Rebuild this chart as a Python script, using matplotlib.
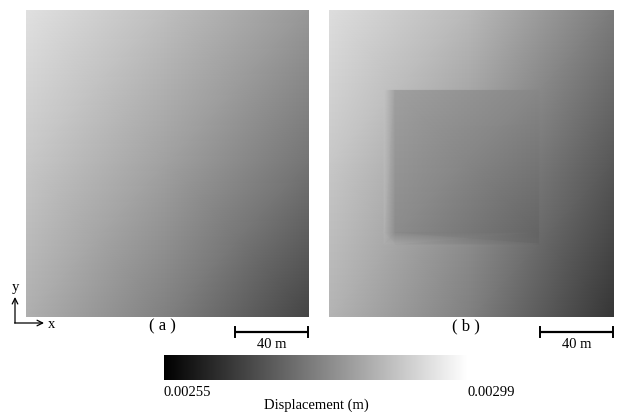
import numpy as np
import matplotlib
matplotlib.use("Agg")
import matplotlib.pyplot as plt

plt.rcParams['font.family'] = ['Liberation Serif', 'DejaVu Serif']

# ---- data (displacement in m) ----
vmin, vmax = 0.00255, 0.00299
domain_w, domain_h = 155, 168          # m
grid_x = [0, 77.5, 155]                # m, node positions
grid_y = [168, 84, 0]                  # m, rows top->bottom
# panel (a): node values, rows top->bottom, cols left->right
field_a = [[0.002938, 0.002878, 0.002812],
           [0.002895, 0.002826, 0.002750],
           [0.002852, 0.002770, 0.002668]]
# panel (b) background
field_b = [[0.002933, 0.002869, 0.002762],
           [0.002895, 0.002809, 0.002700],
           [0.002861, 0.002770, 0.002642]]
# panel (b) inclusion, with soft left/bottom fringe (outer nodes = surroundings)
inc_x = [30, 36, 114]                  # m
inc_y = [124, 46, 40]                  # m, top->bottom
field_inc = [[0.002890, 0.002826, 0.002783],
             [0.002855, 0.002792, 0.002723],
             [0.002850, 0.002835, 0.002725]]
scale_len = 40                         # m
panel_labels = ['( a )', '( b )']
cbar_ticks = ['0.00255', '0.00299']
cbar_label = 'Displacement (m)'

fig = plt.figure(figsize=(6.2, 4.12), dpi=100)
W, H = 620, 412

def fax(l, t, w, h):
    return fig.add_axes([l / W, 1 - (t + h) / H, w / W, h / H])

ax_a = fax(26, 10, 283, 307)
ax_b = fax(329, 10, 285, 307)
im = ax_a.pcolormesh(grid_x, grid_y, np.array(field_a), cmap='gray',
                     vmin=vmin, vmax=vmax, shading='gouraud')
ax_b.pcolormesh(grid_x, grid_y, np.array(field_b), cmap='gray',
                vmin=vmin, vmax=vmax, shading='gouraud')
ax_b.pcolormesh(inc_x, inc_y, np.array(field_inc), cmap='gray',
                vmin=vmin, vmax=vmax, shading='gouraud')
for ax in (ax_a, ax_b):
    ax.set_xlim(0, domain_w)
    ax.set_ylim(0, domain_h)
    ax.axis('off')

# overlay in pixel coordinates for annotations
ov = fig.add_axes([0, 0, 1, 1], zorder=5)
ov.set_xlim(0, W)
ov.set_ylim(H, 0)
ov.axis('off')
ov.patch.set_alpha(0)

fs = 10.5
# axis arrows
ov.annotate('', xy=(15, 297), xytext=(15, 323),
            arrowprops=dict(arrowstyle='->', lw=0.9, color='black',
                            shrinkA=0, shrinkB=0))
ov.annotate('', xy=(44, 323), xytext=(14.6, 323),
            arrowprops=dict(arrowstyle='->', lw=0.9, color='black',
                            shrinkA=0, shrinkB=0))
ov.text(15, 288, 'y', ha='center', va='center', fontsize=fs)
ov.text(52, 324, 'x', ha='center', va='center', fontsize=fs)

# panel labels
ov.text(162, 326, panel_labels[0], ha='center', va='center', fontsize=12)
ov.text(466, 326, panel_labels[1], ha='center', va='center', fontsize=12)

# scale bars
px_per_m = 283 / domain_w
for x_right in (308, 613):
    x0 = x_right - scale_len * px_per_m
    ov.plot([x0, x_right], [332, 332], color='black', lw=1.6, solid_capstyle='butt')
    ov.plot([x0, x0], [327, 337], color='black', lw=1.4)
    ov.plot([x_right, x_right], [327, 337], color='black', lw=1.4)
    ov.text((x0 + x_right) / 2, 345, f'{scale_len} m', ha='center', va='center',
            fontsize=fs)

# colorbar
cax = fax(164, 355, 304, 25)
cb = fig.colorbar(im, cax=cax, orientation='horizontal')
cb.set_ticks([])
cb.outline.set_visible(False)
ov.text(163, 393, cbar_ticks[0], ha='left', va='center', fontsize=fs)
ov.text(467, 392, cbar_ticks[1], ha='left', va='center', fontsize=fs)
ov.text(316, 405, cbar_label, ha='center', va='center', fontsize=fs)

fig.savefig('out.png', dpi=100)
